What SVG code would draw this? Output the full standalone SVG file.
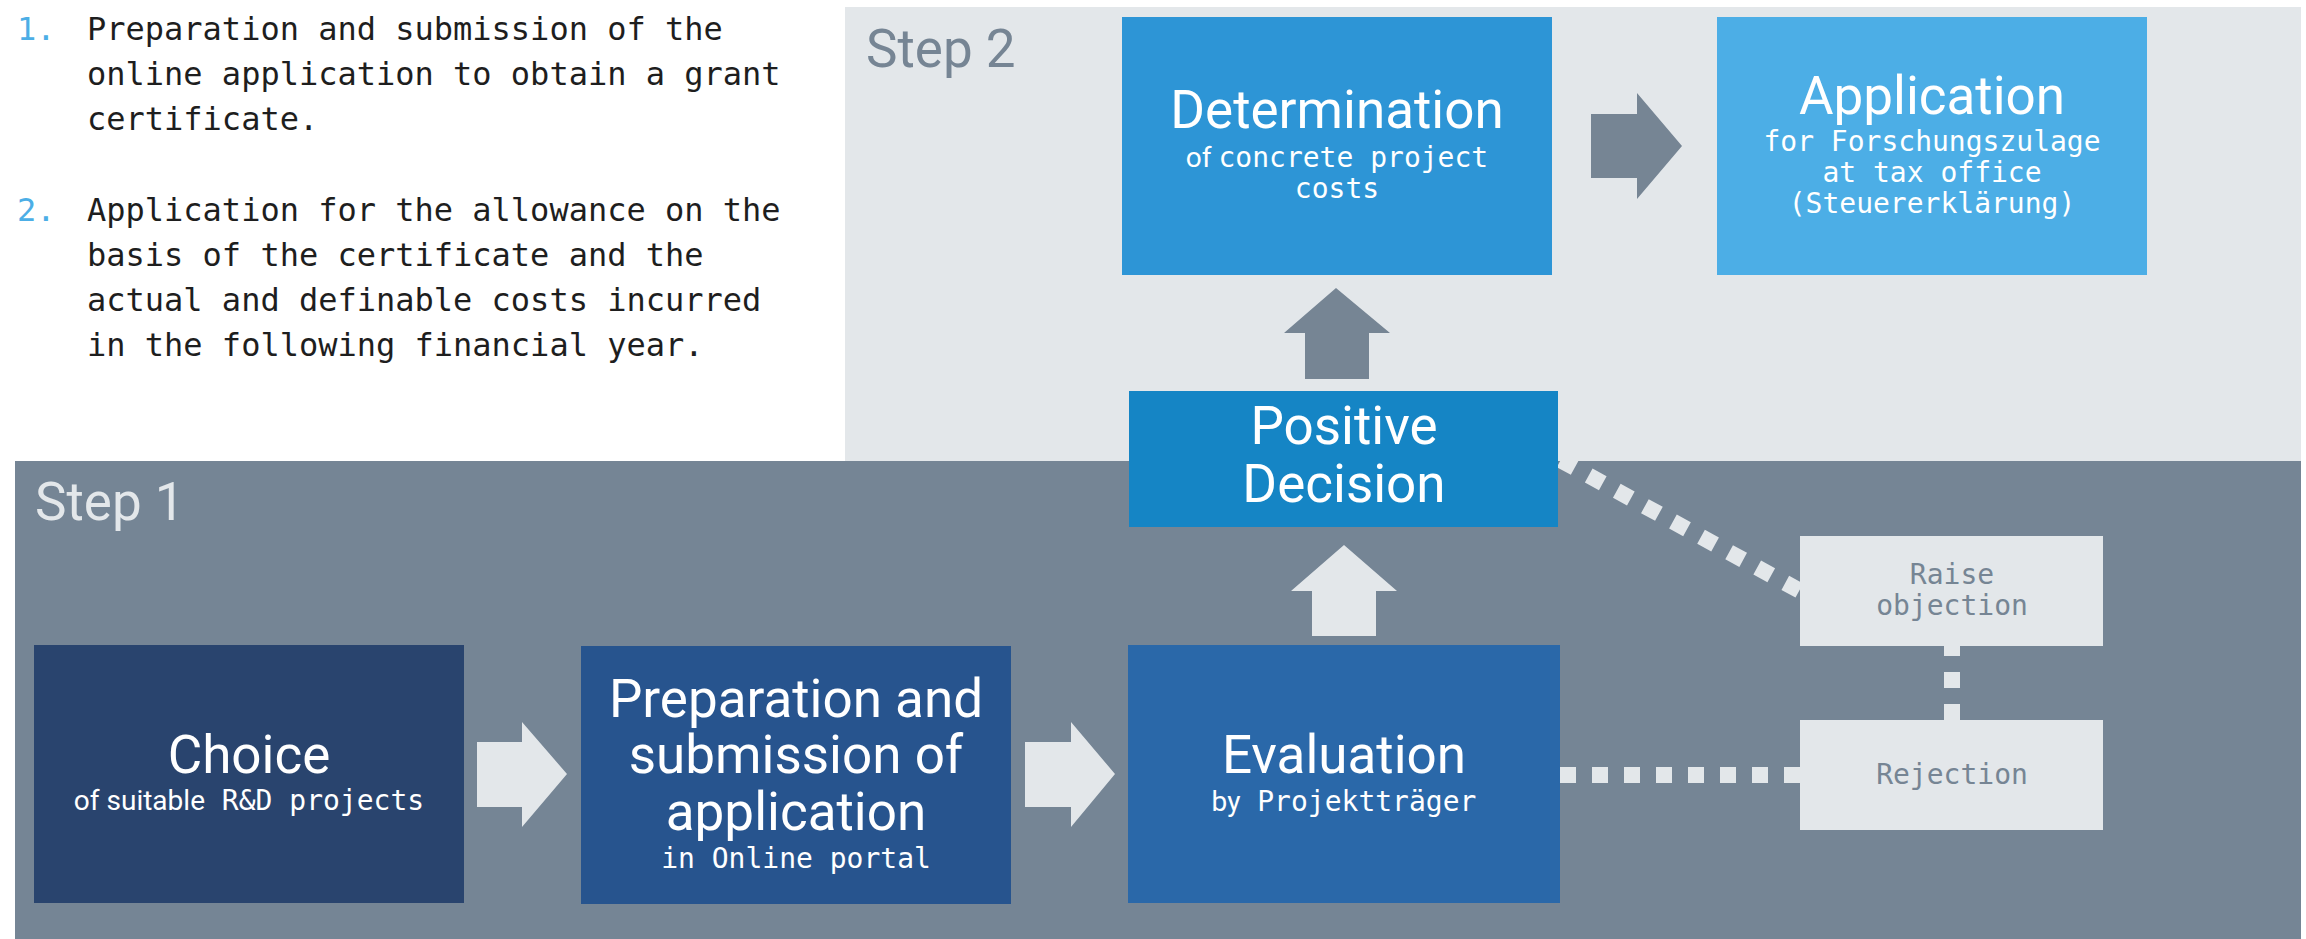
<svg xmlns="http://www.w3.org/2000/svg" width="2306" height="939" viewBox="0 0 2306 939">
<style>
.list{font-family:"DejaVu Sans Mono","Liberation Mono",monospace;font-size:32px;fill:#1e1e1e}
.num{fill:#4caee6}
.title{font-family:Roboto,"Liberation Sans",sans-serif;font-size:53px;fill:#ffffff;text-anchor:middle}
.sub{font-family:"DejaVu Sans Mono","Liberation Mono",monospace;font-size:28px;fill:#ffffff;text-anchor:middle}
.prop{font-family:Roboto,"Liberation Sans",sans-serif}
.step{font-family:Roboto,"Liberation Sans",sans-serif;font-size:53px;font-weight:400}
.small{font-family:"DejaVu Sans Mono","Liberation Mono",monospace;font-size:28px;fill:#768594;text-anchor:middle}
.dots{stroke:#e3e7ea;stroke-width:16;stroke-dasharray:16 16;fill:none;stroke-linecap:butt}
.arrowL{fill:#e3e7ea}
.arrowD{fill:#768594}
</style>
<rect width="2306" height="939" fill="#ffffff"/>
<g id="list">
<text class="list"><tspan class="num" x="17" y="40">1.</tspan><tspan x="87" y="40">Preparation and submission of the</tspan><tspan x="87" y="85">online application to obtain a grant</tspan><tspan x="87" y="130">certificate.</tspan></text>
<text class="list"><tspan class="num" x="17" y="221">2.</tspan><tspan x="87" y="221">Application for the allowance on the</tspan><tspan x="87" y="266">basis of the certificate and the</tspan><tspan x="87" y="311">actual and definable costs incurred</tspan><tspan x="87" y="356">in the following financial year.</tspan></text>
</g>
<g id="step2-panel">
<rect x="845" y="7" width="1456" height="454" fill="#e3e7ea"/>
<text class="step" x="866" y="67" fill="#768594">Step 2</text>
</g>
<g id="step1-panel">
<rect x="15" y="461" width="2286" height="478" fill="#758595"/>
<text class="step" x="35" y="520" fill="#e3e7ea">Step 1</text>
</g>
<g id="connectors">
<polygon class="arrowL" points="477,742 522,742 522,722 567,774 522,827 522,807 477,807"/>
<polygon class="arrowL" points="1025,742 1071,742 1071,722 1115,774 1071,827 1071,807 1025,807"/>
<polygon class="arrowL" points="1312,636 1312,591 1291,591 1344,545 1397,591 1376,591 1376,636"/>
<polygon class="arrowD" points="1305,379 1305,333 1284,333 1336,288 1390,333 1369,333 1369,379"/>
<polygon class="arrowD" points="1591,114 1637,114 1637,93 1682,146 1637,199 1637,178 1591,178"/>
<line class="dots" x1="1558" y1="458.7" x2="1800" y2="590.9" stroke-dashoffset="29"/>
<line class="dots" x1="1560" y1="775" x2="1800" y2="775"/>
<line class="dots" x1="1952" y1="720" x2="1952" y2="646"/>
</g>
<g id="choice">
<rect x="34" y="645" width="430" height="258" fill="#29446e"/>
<text class="title" x="249" y="773">Choice</text>
<text class="sub" x="249" y="810"><tspan class="prop">of suitable</tspan> R&amp;D projects</text>
</g>
<g id="preparation">
<rect x="581" y="646" width="430" height="258" fill="#27548e"/>
<text class="title" x="796" y="717">Preparation and</text>
<text class="title" x="796" y="773">submission of</text>
<text class="title" x="796" y="830">application</text>
<text class="sub" x="796" y="868">in Online portal</text>
</g>
<g id="evaluation">
<rect x="1128" y="645" width="432" height="258" fill="#2a68a9"/>
<text class="title" x="1344" y="773">Evaluation</text>
<text class="sub" x="1344" y="811"><tspan class="prop">by</tspan> Projektträger</text>
</g>
<g id="positive-decision">
<rect x="1129" y="391" width="429" height="136" fill="#1585c5"/>
<text class="title" x="1344" y="444">Positive</text>
<text class="title" x="1344" y="502">Decision</text>
</g>
<g id="determination">
<rect x="1122" y="17" width="430" height="258" fill="#2d95d6"/>
<text class="title" x="1337" y="128">Determination</text>
<text class="sub" x="1337" y="167"><tspan class="prop">of </tspan>concrete project</text>
<text class="sub" x="1337" y="198">costs</text>
</g>
<g id="application">
<rect x="1717" y="17" width="430" height="258" fill="#4caee6"/>
<text class="title" x="1932" y="114">Application</text>
<text class="sub" x="1932" y="151">for Forschungszulage</text>
<text class="sub" x="1932" y="182">at tax office</text>
<text class="sub" x="1932" y="213">(Steuererklärung)</text>
</g>
<g id="raise-objection">
<rect x="1800" y="536" width="303" height="110" fill="#e3e7ea"/>
<text class="small" x="1952" y="584">Raise</text>
<text class="small" x="1952" y="615">objection</text>
</g>
<g id="rejection">
<rect x="1800" y="720" width="303" height="110" fill="#e3e7ea"/>
<text class="small" x="1952" y="784">Rejection</text>
</g>
</svg>
